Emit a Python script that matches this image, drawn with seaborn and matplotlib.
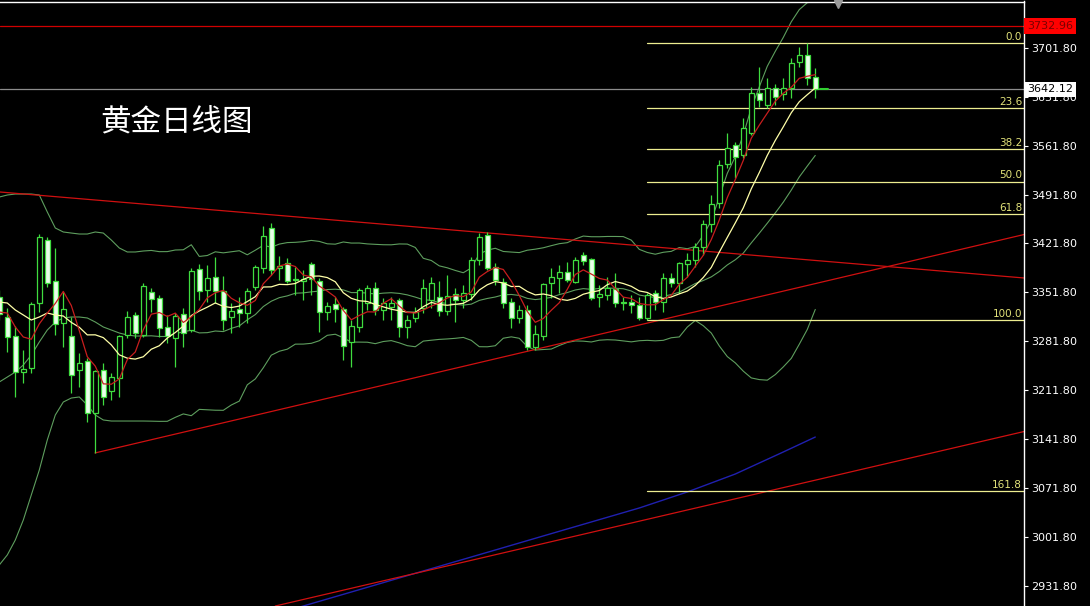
import numpy as np
import pandas as pd
import matplotlib
matplotlib.use("Agg")
import matplotlib.pyplot as plt
import seaborn as sns

# ---------------- data ----------------
opens = [3345, 3317, 3289, 3238, 3244, 3337, 3427, 3368, 3308, 3289,
         3241, 3254, 3179, 3241, 3211, 3229, 3291, 3320, 3291, 3352,
         3344, 3302, 3287, 3321, 3298, 3385, 3355, 3374, 3354, 3317,
         3328, 3322, 3360, 3387, 3444, 3387, 3394, 3371, 3368, 3392,
         3368, 3324, 3335, 3328, 3281, 3302, 3337, 3358, 3327, 3331,
         3341, 3302, 3315, 3330, 3341, 3345, 3325, 3350, 3341, 3350,
         3398, 3434, 3388, 3367, 3338, 3315, 3327, 3274, 3289, 3365,
         3372, 3381, 3367, 3405, 3400, 3345, 3348, 3357, 3337, 3338,
         3334, 3315, 3351, 3338, 3372, 3365, 3392, 3398, 3417, 3450,
         3480, 3536, 3563, 3548, 3580, 3637, 3620, 3644, 3636, 3644,
         3681, 3691, 3660]
highs = [3355, 3330, 3304, 3269, 3338, 3435, 3431, 3415, 3352, 3317,
         3265, 3258, 3241, 3251, 3237, 3291, 3325, 3324, 3365, 3358,
         3348, 3320, 3322, 3330, 3387, 3392, 3391, 3402, 3375, 3337,
         3345, 3358, 3391, 3447, 3451, 3404, 3401, 3388, 3384, 3395,
         3372, 3338, 3345, 3331, 3312, 3358, 3362, 3367, 3344, 3345,
         3344, 3320, 3331, 3371, 3374, 3368, 3377, 3358, 3362, 3402,
         3437, 3438, 3394, 3372, 3344, 3334, 3334, 3305, 3365, 3387,
         3391, 3395, 3402, 3410, 3401, 3362, 3374, 3380, 3345, 3348,
         3345, 3351, 3355, 3380, 3380, 3395, 3408, 3422, 3455, 3491,
         3541, 3580, 3567, 3601, 3646, 3674, 3659, 3650, 3659, 3687,
         3703, 3708.5, 3673]
lows = [3312, 3266, 3202, 3222, 3237, 3324, 3360, 3291, 3274, 3208,
        3217, 3166, 3122, 3191, 3198, 3202, 3287, 3287, 3288, 3324,
        3288, 3279, 3245, 3274, 3295, 3341, 3338, 3337, 3298, 3294,
        3302, 3308, 3355, 3380, 3377, 3370, 3365, 3348, 3341, 3348,
        3295, 3312, 3309, 3255, 3245, 3295, 3327, 3320, 3312, 3312,
        3288, 3287, 3309, 3322, 3330, 3318, 3320, 3309, 3330, 3341,
        3391, 3384, 3362, 3330, 3301, 3308, 3269, 3269, 3284, 3344,
        3351, 3367, 3365, 3391, 3341, 3331, 3341, 3331, 3327, 3322,
        3312, 3312, 3327, 3324, 3360, 3351, 3374, 3388, 3405, 3438,
        3473, 3530, 3515, 3544, 3577, 3617, 3616, 3620, 3627, 3630,
        3674, 3648, 3630]
closes = [3321, 3288, 3238, 3242, 3335, 3431, 3365, 3307, 3328, 3234,
          3251, 3179, 3239, 3202, 3231, 3289, 3317, 3294, 3361, 3342,
          3301, 3289, 3318, 3294, 3382, 3354, 3372, 3354, 3312, 3325,
          3322, 3354, 3388, 3432, 3384, 3390, 3368, 3370, 3371, 3371,
          3324, 3332, 3328, 3275, 3304, 3355, 3358, 3327, 3337, 3337,
          3302, 3312, 3324, 3358, 3365, 3325, 3347, 3341, 3351, 3398,
          3431, 3387, 3370, 3337, 3315, 3327, 3274, 3292, 3364, 3374,
          3381, 3370, 3398, 3397, 3344, 3350, 3358, 3337, 3336, 3334,
          3315, 3348, 3338, 3372, 3365, 3394, 3398, 3417, 3450, 3478,
          3534, 3558, 3546, 3587, 3637, 3627, 3644, 3631, 3644, 3680,
          3691, 3659, 3642.12]

# indicator values at the left edge (before the full window)
ma5_head = [3323.7, 3322.3, 3302.3, 3288.0]
ma10_head = [3338.0, 3336.6, 3326.6, 3319.5, 3312.3, 3316.6, 3322.3, 3319.5, 3318.0]
bb_up_head = [3488.2, 3491.1, 3492.5, 3492.5, 3492.5, 3491.1, 3466.8, 3443.9, 3438.2, 3436.7,
              3435.3, 3435.3, 3438.2, 3436.7, 3426.7, 3415.3, 3409.6, 3409.6, 3411.0]
bb_mid_head = [3223.6, 3230.7, 3237.9, 3247.9, 3262.2, 3280.8, 3298.0, 3309.4, 3315.2, 3316.6,
               3316.6, 3315.2, 3309.4, 3302.3, 3298.0, 3293.7, 3290.8, 3289.4, 3289.4]
bb_lo_head = [2961.9, 2976.2, 2997.6, 3026.2, 3062.0, 3097.7, 3140.7, 3176.4, 3195.0, 3200.7,
              3202.2, 3190.7, 3176.4, 3169.3, 3167.8, 3167.8, 3167.8, 3167.8, 3167.8]

# long-term moving average (blue)
blue_idx = [32, 38, 44, 50, 56, 62, 68, 74, 80, 86, 92, 98, 102]
blue_val = [2883.0, 2903.2, 2923.2, 2943.3, 2963.3, 2983.3, 3003.4, 3023.4, 3043.4,
            3066.3, 3092.0, 3123.5, 3144.9]

# trend lines (bar index, price)
trend_down = ([0.09, 128.1], [3495.4, 3372.4])
trend_up = ([11.96, 128.1], [3122.1, 3434.6])
trend_up2 = ([34.5, 128.1], [2903.2, 3152.8])

# Fibonacci retracement
fib_start = 81
fib_low, fib_high = 3312.3, 3708.5
fib_levels = [0.0, 23.6, 38.2, 50.0, 61.8, 100.0, 161.8]

red_level = 3732.96
bid_level = 3642.12
y_ticks = [2931.8, 3001.8, 3071.8, 3141.8, 3211.8, 3281.8, 3351.8, 3421.8,
           3491.8, 3561.8, 3631.8, 3701.8]
title = "黄金日线图"

# ---------------- drawing ----------------
sns.set_style("dark")
plt.rcParams["font.family"] = ["DejaVu Sans"]

W, H = 1090, 606
fig = plt.figure(figsize=(W / 100, H / 100), dpi=100, facecolor="black")
ax = fig.add_axes([0, 0, 1024 / W, 604.5 / H])
ax.set_facecolor("black")
ax.set_xlim(0.0875, 128.09)
ax.set_ylim(2903.2, 3767.9)
ax.grid(False)

idx = np.arange(len(closes))
o = np.array(opens, float); h = np.array(highs, float)
l = np.array(lows, float); c = np.array(closes, float)

cs = pd.Series(c)
ma5 = cs.rolling(5).mean().to_numpy(); ma5[:4] = ma5_head
ma10 = cs.rolling(10).mean().to_numpy(); ma10[:9] = ma10_head
mid = cs.rolling(20).mean(); sd = cs.rolling(20).std(ddof=0)
up = (mid + 2 * sd).to_numpy(); lo = (mid - 2 * sd).to_numpy(); mid = mid.to_numpy()
up[:19] = bb_up_head; mid[:19] = bb_mid_head; lo[:19] = bb_lo_head

band_col = "#5e9e5e"
for series in (up, mid, lo):
    sns.lineplot(x=idx, y=series, ax=ax, color=band_col, linewidth=0.8, legend=False, zorder=2)
sns.lineplot(x=idx, y=ma10, ax=ax, color="#ffffa8", linewidth=0.9, legend=False, zorder=5)
sns.lineplot(x=idx, y=ma5, ax=ax, color="#c81e1e", linewidth=0.9, legend=False, zorder=5)
sns.lineplot(x=blue_idx, y=blue_val, ax=ax, color="#2020b0", linewidth=1.0, legend=False, zorder=2)

# trend lines
tcol = "#d01010"
for tx, ty in (trend_down, trend_up, trend_up2):
    ax.plot(tx, ty, color=tcol, linewidth=0.9, zorder=2)

# horizontal levels
ax.axhline(red_level, color="#d00000", linewidth=0.9, zorder=2)
ax.axhline(bid_level, color="#8c8c8c", linewidth=0.9, zorder=2)

# fibonacci
fib_col = "#eded90"
rng = fib_high - fib_low
for lv in fib_levels:
    price = fib_high - rng * lv / 100.0
    ax.plot([fib_start, 128.09], [price, price], color=fib_col, linewidth=0.9, zorder=2)
    ax.text(127.85, price + 1.5, f"{lv:.1f}", color="#e3e37a", fontsize=7.5,
            ha="right", va="bottom", zorder=6)

# candles
green = "#3fdc3f"
ax.vlines(idx, l, h, color=green, linewidth=0.9, zorder=3)
bull = c >= o
body_low = np.minimum(o, c)
body_h = np.maximum(np.abs(c - o), 1.4)
ax.bar(idx[bull], body_h[bull], bottom=body_low[bull], width=0.6,
       facecolor="black", edgecolor=green, linewidth=0.9, zorder=4)
ax.bar(idx[~bull], body_h[~bull], bottom=body_low[~bull], width=0.6,
       facecolor="#eaffea", edgecolor=green, linewidth=0.9, zorder=4)

# small markers
ax.plot([102.6, 103.6], [bid_level + 1, bid_level + 1], color="#30d030", linewidth=1.5, zorder=6)
ax.plot([104.8], [3765.0], marker="v", color="#9a9a9a", markersize=6, zorder=6, clip_on=False)

# axes styling
for s in ("left", "bottom"):
    ax.spines[s].set_visible(False)
for s in ("top", "right"):
    ax.spines[s].set_color("white")
    ax.spines[s].set_linewidth(1.0)
ax.set_xticks([])
ax.yaxis.tick_right()
ax.set_yticks(y_ticks)
ax.set_yticklabels([f"{t:.2f}" for t in y_ticks])
ax.tick_params(axis="y", colors="white", labelsize=8, length=3, width=0.8,
               direction="out", pad=2, right=True, left=False)
ax.set_xlabel(""); ax.set_ylabel("")

# price boxes on the axis
def ybox(price):
    return (price - 2903.2) / (3767.9 - 2903.2) * (604.5 / H)

fig.text(1027 / W, ybox(red_level), f"{red_level:.2f}", color="#7a0000", fontsize=8,
         ha="left", va="center",
         bbox=dict(boxstyle="square,pad=0.25", facecolor="#ff0000", edgecolor="none"))
fig.text(1027 / W, ybox(bid_level), f"{bid_level:.2f}", color="black", fontsize=8,
         ha="left", va="center",
         bbox=dict(boxstyle="square,pad=0.25", facecolor="white", edgecolor="none"))

fig.text(100 / W, 1 - 122 / H, title, color="white", fontsize=22,
         family=["Noto Sans CJK SC", "DejaVu Sans"], ha="left", va="center")

fig.savefig("out.png", dpi=100, facecolor="black")
